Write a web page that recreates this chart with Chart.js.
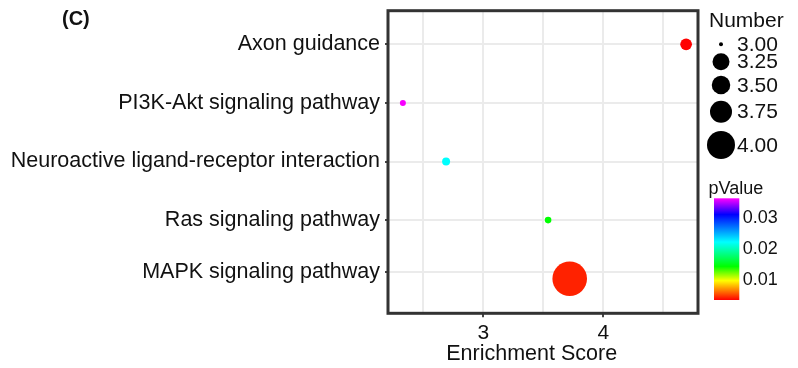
<!DOCTYPE html>
<html>
<head>
<meta charset="utf-8">
<script src="https://cdn.jsdelivr.net/npm/chart.js@4.4.1/dist/chart.umd.min.js"></script>
<style>
  html, body { margin: 0; padding: 0; background: #fff; }
  #wrap { position: relative; width: 798px; height: 368px; }
</style>
</head>
<body>
<div id="wrap"><canvas id="chart" width="798" height="368"></canvas></div>
<script>
// ---------------------------------------------------------------------------
// Data
// ---------------------------------------------------------------------------
const pathways = [
  'Axon guidance',
  'PI3K-Akt signaling pathway',
  'Neuroactive ligand-receptor interaction',
  'Ras signaling pathway',
  'MAPK signaling pathway',
];
const enrichmentScore = [4.69, 2.33, 2.69, 3.54, 3.72];
const geneNumber      = [3.2, 3.0, 3.07, 3.02, 4.0];
const pValue          = [0.0032, 0.0361, 0.0220, 0.0141, 0.0040];

// category rows (top = 5); the MAPK label/gridline sits a bit above its bubble
const yIndex          = [5, 4, 3, 2, 1];
const yTickPos        = [5, 4, 3, 2, 1.12];
const xTicks          = [2.5, 3, 3.5, 4, 4.5];
const numberLegend    = [3.00, 3.25, 3.50, 3.75, 4.00];
const pValueTicks     = [0.03, 0.02, 0.01];

// ---------------------------------------------------------------------------
// Colour ramp for pValue (rainbow, red = small p)
// ---------------------------------------------------------------------------
const P_TOP = 0.03624, P_BOTTOM = 0.00317;   // colourbar range
const rampStops = [
  [0.00, [255, 0, 255]],
  [0.16, [0, 0, 255]],
  [0.43, [0, 255, 255]],
  [0.67, [0, 255, 0]],
  [0.81, [255, 255, 0]],
  [1.00, [255, 0, 0]],
];

function pColour(p) {
  let f = (P_TOP - p) / (P_TOP - P_BOTTOM);
  f = Math.max(0, Math.min(1, f));
  for (let i = 1; i < rampStops.length; i++) {
    const [f1, c1] = rampStops[i];
    const [f0, c0] = rampStops[i - 1];
    if (f <= f1) {
      const t = (f - f0) / (f1 - f0);
      const c = c0.map((v, k) => Math.round(v + (c1[k] - v) * t));
      return `rgb(${c[0]},${c[1]},${c[2]})`;
    }
  }
  return 'rgb(255,0,0)';
}

// bubble radius in px for a gene count
function radiusFor(n) {
  return 3 + (n - 3) * 14.3;
}

const points = pathways.map((name, i) => ({
  x: enrichmentScore[i],
  y: yIndex[i],
  r: radiusFor(geneNumber[i]),
}));

const FONT = "'Liberation Sans', Arial, Helvetica, sans-serif";
Chart.defaults.font.family = FONT;
Chart.defaults.color = '#111';

// ---------------------------------------------------------------------------
// Plugin: panel border, panel tag, axis title and the two legends
// ---------------------------------------------------------------------------
const extras = {
  id: 'extras',
  afterDraw(chart) {
    const ctx = chart.ctx;
    const a = chart.chartArea;
    ctx.save();

    // panel border
    ctx.strokeStyle = '#333';
    ctx.lineWidth = 3;
    ctx.strokeRect(a.left, a.top, a.right - a.left, a.bottom - a.top);

    // panel tag
    ctx.fillStyle = '#111';
    ctx.font = `bold 20px ${FONT}`;
    ctx.textBaseline = 'alphabetic';
    ctx.fillText('(C)', 62, 24.5);

    // x axis title
    ctx.font = `21.5px ${FONT}`;
    ctx.textAlign = 'center';
    ctx.textBaseline = 'middle';
    ctx.fillText('Enrichment Score', 531.7, 354);
    ctx.textAlign = 'left';

    // size legend
    ctx.font = `21px ${FONT}`;
    ctx.textBaseline = 'alphabetic';
    ctx.fillText('Number', 709, 27);
    const legY = [44.3, 61.7, 85, 111.7, 145];
    const legD = [4, 17, 18.5, 22, 28];
    ctx.textBaseline = 'middle';
    numberLegend.forEach((v, i) => {
      ctx.beginPath();
      ctx.arc(721, legY[i], legD[i] / 2, 0, Math.PI * 2);
      ctx.fillStyle = '#000';
      ctx.fill();
      ctx.fillStyle = '#111';
      ctx.fillText(v.toFixed(2), 737, legY[i] + 1);
    });

    // colour bar legend
    const barX = 714, barW = 25.3, barTop = 198.3, barBot = 300;
    ctx.textBaseline = 'alphabetic';
    ctx.font = `18px ${FONT}`;
    ctx.fillText('pValue', 708.5, 193.5);
    const g = ctx.createLinearGradient(0, barTop, 0, barBot);
    rampStops.forEach(([f, c]) => g.addColorStop(f, `rgb(${c[0]},${c[1]},${c[2]})`));
    ctx.fillStyle = g;
    ctx.fillRect(barX, barTop, barW, barBot - barTop);
    ctx.fillStyle = '#111';
    ctx.textBaseline = 'middle';
    pValueTicks.forEach(p => {
      const y = barTop + (P_TOP - p) / (P_TOP - P_BOTTOM) * (barBot - barTop);
      ctx.fillText(p.toFixed(2), 742.7, y + 1);
    });

    ctx.restore();
  },
};

// ---------------------------------------------------------------------------
// Chart
// ---------------------------------------------------------------------------
new Chart(document.getElementById('chart'), {
  type: 'bubble',
  data: {
    datasets: [{
      data: points,
      backgroundColor: pValue.map(pColour),
      borderWidth: 0,
      hoverBorderWidth: 0,
    }],
  },
  options: {
    responsive: false,
    animation: false,
    events: [],
    layout: { autoPadding: false, padding: { top: 10.7, right: 100, left: 0, bottom: 0 } },
    plugins: {
      legend: { display: false },
      tooltip: { enabled: false },
    },
    scales: {
      x: {
        type: 'linear',
        min: 2.206,
        max: 4.789,
        afterBuildTicks: (scale) => { scale.ticks = xTicks.map(v => ({ value: v })); },
        afterFit: (scale) => {
          scale.height = 54.7;
          scale.paddingLeft = 0;
          scale.paddingRight = 0;
        },
        grid: {
          color: '#ebebeb',
          lineWidth: 2,
          tickLength: 4,
          tickColor: (ctx) => Number.isInteger(ctx.tick.value) ? '#444' : 'rgba(0,0,0,0)',
        },
        border: { display: false },
        ticks: {
          padding: 3,
          font: { size: 21 },
          color: '#111',
          callback: (v) => Number.isInteger(v) ? String(v) : '',
          maxRotation: 0,
          autoSkip: false,
        },
      },
      y: {
        type: 'linear',
        min: 0.41,
        max: 5.573,
        afterBuildTicks: (scale) => { scale.ticks = yTickPos.map(v => ({ value: v })); },
        afterFit: (scale) => {
          scale.width = 388;
          scale.paddingTop = 0;
          scale.paddingBottom = 0;
        },
        grid: {
          color: '#ebebeb',
          lineWidth: 2,
          tickLength: 3,
          tickColor: '#444',
        },
        border: { display: false },
        ticks: {
          padding: 5,
          font: { size: 21.5 },
          color: '#111',
          autoSkip: false,
          callback: (v, i) => pathways[i],
        },
      },
    },
  },
  plugins: [extras],
});
</script>
</body>
</html>
